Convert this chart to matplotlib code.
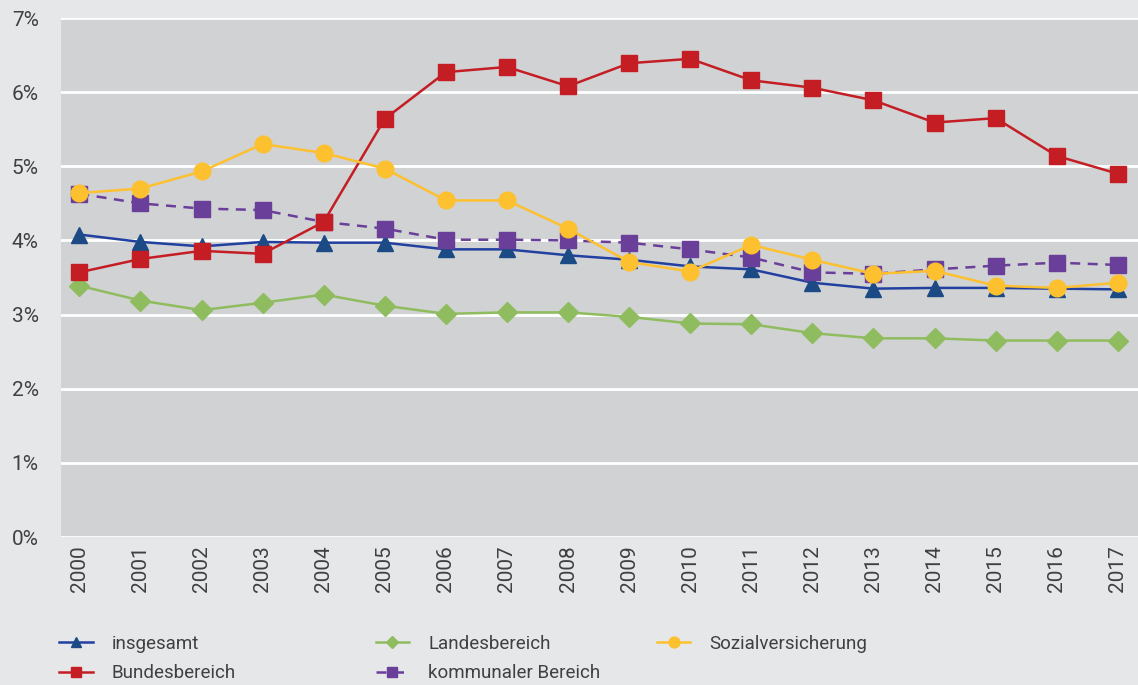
import numpy as np
import matplotlib.pyplot as plt

jahre = [str(j) for j in range(2000, 2018)]

insgesamt = [4.08, 3.98, 3.92, 3.98, 3.97, 3.97, 3.88, 3.88, 3.80, 3.74,
             3.65, 3.61, 3.43, 3.35, 3.36, 3.36, 3.35, 3.34]
bundesbereich = [3.57, 3.75, 3.86, 3.82, 4.25, 5.64, 6.27, 6.34, 6.08, 6.39,
                 6.45, 6.16, 6.06, 5.89, 5.59, 5.65, 5.14, 4.90]
landesbereich = [3.39, 3.19, 3.06, 3.16, 3.27, 3.12, 3.01, 3.03, 3.03, 2.97,
                 2.88, 2.87, 2.75, 2.68, 2.68, 2.65, 2.65, 2.65]
kommunal = [4.63, 4.50, 4.43, 4.41, 4.25, 4.16, 4.01, 4.01, 4.00, 3.97,
            3.88, 3.77, 3.57, 3.55, 3.61, 3.66, 3.70, 3.67]
sozial = [4.64, 4.70, 4.93, 5.30, 5.18, 4.97, 4.54, 4.54, 4.16, 3.71,
          3.58, 3.94, 3.74, 3.55, 3.59, 3.39, 3.36, 3.43]

plt.rcParams['font.family'] = ['Roboto', 'DejaVu Sans']
grau = '#404040'

fig = plt.figure(figsize=(11.38, 6.85), dpi=100, facecolor='#e6e7e9')
ax = fig.add_axes([0.0536, 0.216, 0.9464, 0.7577])
ax.set_facecolor('#d1d2d4')

x = np.arange(len(jahre))
lw = 1.8
l_land, = ax.plot(x, landesbereich, color='#8fbc5e', lw=lw, marker='D', ms=10,
                  label='Landesbereich', zorder=3)
l_ges, = ax.plot(x, insgesamt, color='#2240a0', lw=lw, marker='^', ms=11,
                 mfc='#1b4a85', mec='#1b4a85', label='insgesamt', zorder=4)
l_kom, = ax.plot(x, kommunal, color='#6a3f99', lw=lw, ls=(0, (4, 3)), marker='s', ms=12,
                 mfc='#6a3f99', mec='#6a3f99', label='kommunaler Bereich', zorder=5)
l_bund, = ax.plot(x, bundesbereich, color='#c41e24', lw=lw, marker='s', ms=11.5,
                  label='Bundesbereich', zorder=6)
l_soz, = ax.plot(x, sozial, color='#fdc02f', lw=lw, marker='o', ms=12,
                 label='Sozialversicherung', zorder=7)

ax.set_xlim(-0.3, 17.33)
ax.set_ylim(0, 7.0)
ax.set_yticks(range(0, 8))
ax.set_yticklabels([f'{v}%' for v in range(0, 8)])
ax.set_xticks(x)
ax.set_xticklabels(jahre, rotation=90)
ax.yaxis.grid(True, color='white', lw=2)
ax.set_axisbelow(True)
for s in ax.spines.values():
    s.set_visible(False)
ax.tick_params(length=0, labelsize=15, colors=grau)
ax.tick_params(axis='y', pad=16)
ax.tick_params(axis='x', pad=6)

# Legende in drei Spalten, jeweils einzeln platziert
spalten = [([l_ges, l_bund], 0.052),
           ([l_land, l_kom], 0.330),
           ([l_soz], 0.577)]
for hs, xpos in spalten:
    leg = fig.legend(hs, [h.get_label() for h in hs], loc='upper left',
                     bbox_to_anchor=(xpos, 0.073), frameon=False, fontsize=13.5,
                     markerscale=0.65, handlelength=1.8, handletextpad=1.0,
                     labelspacing=0.6, labelcolor=grau, borderaxespad=0,
                     borderpad=0)

fig.savefig('out.png', dpi=100, facecolor=fig.get_facecolor())
